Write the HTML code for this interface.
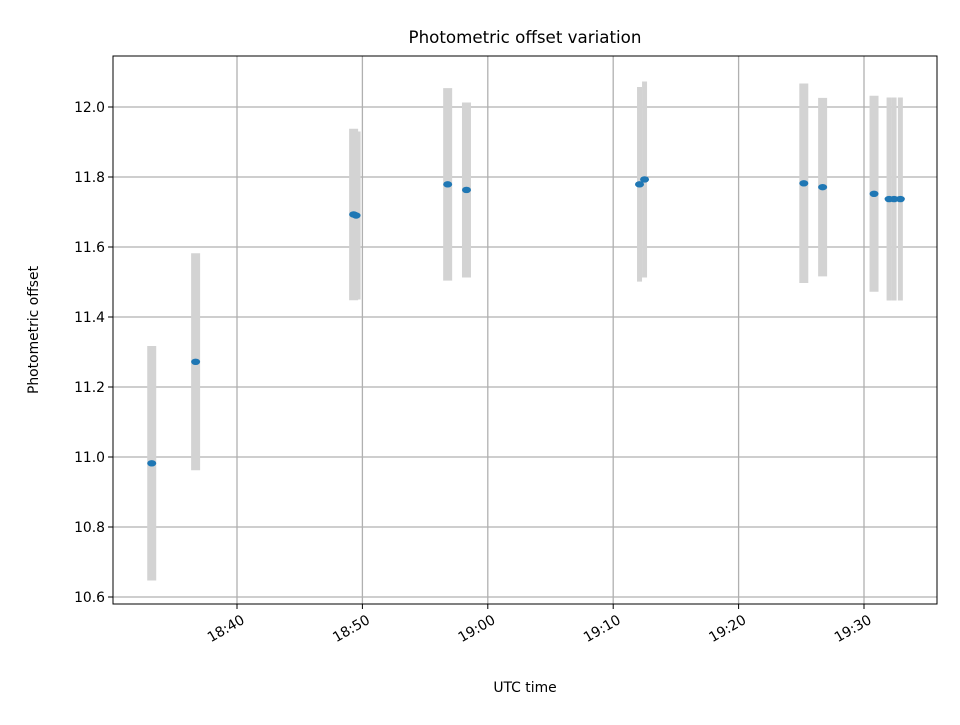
<!DOCTYPE html>
<html><head><meta charset="utf-8"><style>
body{margin:0;background:#fff}
text{font-family:"DejaVu Sans","Liberation Sans",sans-serif;fill:#000}
</style></head><body>
<svg id="c" width="960" height="720" xmlns="http://www.w3.org/2000/svg">
<rect width="960" height="720" fill="#fff"/>
<g id="grid"></g><g id="errs"></g><g id="pts"></g><g id="axes"></g>
<text x="525" y="43" text-anchor="middle" font-size="16.7">Photometric offset variation</text>
<text x="525" y="692" text-anchor="middle" font-size="13.9">UTC time</text>
<text transform="translate(38,330) rotate(-90)" text-anchor="middle" font-size="13.9">Photometric offset</text>
</svg>
<script>
// minutes after 18:00
const times = [33.2, 36.7, 49.3, 49.5, 56.8, 58.3, 72.1, 72.5, 85.2, 86.7, 90.8, 92.0, 92.4, 92.9];
const offsets = [10.982, 11.272, 11.693, 11.690, 11.779, 11.763, 11.779, 11.793, 11.782, 11.771, 11.752, 11.737, 11.737, 11.737];
const errors = [0.335, 0.31, 0.245, 0.24, 0.275, 0.25, 0.278, 0.28, 0.285, 0.255, 0.28, 0.29, 0.29, 0.29];
const yTicks = [10.6, 10.8, 11.0, 11.2, 11.4, 11.6, 11.8, 12.0];
const xTicks = [40, 50, 60, 70, 80, 90];
const xTickLabels = ["18:40", "18:50", "19:00", "19:10", "19:20", "19:30"];
const L=113,R=937,T=56,B=604;
const X=m=>237+(m-40)*12.54;
const Y=v=>107+(12.0-v)*350;
const NS="http://www.w3.org/2000/svg";
function mk(tag,attrs,parent){const e=document.createElementNS(NS,tag);for(const k in attrs)e.setAttribute(k,attrs[k]);parent.appendChild(e);return e;}
const grid=document.getElementById('grid'),errs=document.getElementById('errs'),pts=document.getElementById('pts'),axes=document.getElementById('axes');
yTicks.forEach(v=>{
  const y=Y(v);
  const g=mk('line',{x1:L,x2:R,y1:y,y2:y,stroke:'#b0b0b0','stroke-width':1.3},grid);
  
  
  mk('line',{x1:L-5,x2:L,y1:y,y2:y,stroke:'#000','stroke-width':1},axes);
  const t=mk('text',{x:L-8,y:y+5,'text-anchor':'end','font-size':13.9},axes);
  t.textContent=v.toFixed(1);
  
  
});
xTicks.forEach((m,i)=>{
  const x=X(m);
  const g=mk('line',{x1:x,x2:x,y1:T,y2:B,stroke:'#b0b0b0','stroke-width':1.3},grid);
  
  
  mk('line',{x1:x,x2:x,y1:B,y2:B+5,stroke:'#000','stroke-width':1},axes);
  const t=mk('text',{x:0,y:11,'text-anchor':'end','font-size':13.9,transform:`translate(${x+3} ${B+9}) rotate(-30)`},axes);
  t.textContent=xTickLabels[i];
  
  
});
const frame=mk('rect',{x:L,y:T,width:R-L,height:B-T,fill:'none',stroke:'#000','stroke-width':1},axes);


times.forEach((m,i)=>{
  const x=X(m);
  let w=9;
  const gPrev=i>0?x-X(times[i-1]):99, gNext=i<times.length-1?X(times[i+1])-x:99;
  if(Math.min(gPrev,gNext)<8 && Math.min(gPrev,gNext)>3) w=5;
  const e=mk('line',{x1:x,x2:x,y1:Y(offsets[i]+errors[i]),y2:Y(offsets[i]-errors[i]),stroke:'#d3d3d3','stroke-width':w},errs);
  
  
});
times.forEach((m,i)=>{
  const p=mk('ellipse',{cx:X(m),cy:Y(offsets[i]),rx:4.5,ry:3.2,fill:'#1f77b4'},pts);
  
  
});
</script>
</body></html>
